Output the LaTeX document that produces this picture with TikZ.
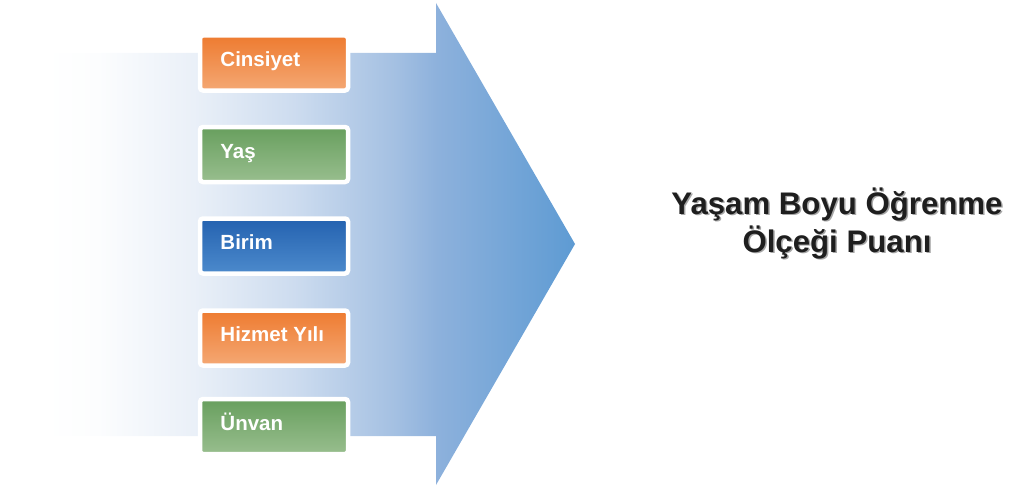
\documentclass[tikz,border=0pt]{standalone}
\usepackage{fontspec}
\setmainfont{Liberation Sans}
\pgfdeclarehorizontalshading{bodyfade}{100bp}{%
  color(0bp)=(white); color(25bp)=(white); color(30bp)=({rgb,255:red,252;green,253;blue,254});
  color(39bp)=({rgb,255:red,234;green,240;blue,248}); color(48.5bp)=({rgb,255:red,205;green,220;blue,239});
  color(58bp)=({rgb,255:red,164;green,192;blue,226}); color(62bp)=({rgb,255:red,141;green,177;blue,220});
  color(75bp)=({rgb,255:red,94;green,155;blue,211}); color(100bp)=({rgb,255:red,94;green,155;blue,211})}
\definecolor{orTop}{RGB}{238,123,48}
\definecolor{orBot}{RGB}{244,168,116}
\definecolor{grTop}{RGB}{104,159,94}
\definecolor{grBot}{RGB}{152,190,142}
\definecolor{blTop}{RGB}{36,98,176}
\definecolor{blBot}{RGB}{76,138,204}
\tikzset{
  box/.style={draw=white, line width=4.5pt, rounded corners=3pt, minimum width=148pt, minimum height=55pt, inner sep=0pt},
  orangebox/.style={box, top color=orTop, bottom color=orBot},
  greenbox/.style={box, top color=grTop, bottom color=grBot},
  bluebox/.style={box, top color=blTop, bottom color=blBot},
  lbl/.style={anchor=base west, text=white, font=\bfseries\fontsize{20.5}{23}\selectfont, inner sep=0pt},
  title/.style={font=\bfseries\fontsize{31.2}{38}\selectfont, align=center, inner sep=0pt, anchor=base}
}
\begin{document}
\begin{tikzpicture}[x=1pt,y=-1pt]
\useasboundingbox (0,0) rectangle (1022,487);
\shade[shading=bodyfade] (45,53) -- (436,53) -- (436,3) -- (575,244) -- (436,485) -- (436,436) -- (45,436) -- cycle;
\node[orangebox] (b1) at (274,63) {};
\node[greenbox]  (b2) at (274,154.5) {};
\node[bluebox]   (b3) at (274,246) {};
\node[orangebox] (b4) at (274,338) {};
\node[greenbox]  (b5) at (274,426.5) {};
\node[lbl] (t1) at ([xshift=22.5pt,yshift=-3.7pt]b1.west) {Cinsiyet};
\node[lbl] (t2) at ([xshift=22.5pt,yshift=-3.7pt]b2.west) {Yaş};
\node[lbl] (t3) at ([xshift=22.5pt,yshift=-3.7pt]b3.west) {Birim};
\node[lbl] (t4) at ([xshift=22.5pt,yshift=-3.7pt]b4.west) {Hizmet Yılı};
\node[lbl] (t5) at ([xshift=22.5pt,yshift=-3.7pt]b5.west) {Ünvan};
\node[title, text=black!35] (s1) at (838.5,215.5) {Yaşam Boyu Öğrenme};
\node[title, text=black!35] (s2) at (838.5,253.5) {Ölçeği Puanı};
\node[title, text={rgb,255:red,30;green,30;blue,30}] (r1) at (837,214) {Yaşam Boyu Öğrenme};
\node[title, text={rgb,255:red,30;green,30;blue,30}] (r2) at (837,252) {Ölçeği Puanı};
\end{tikzpicture}
\end{document}
